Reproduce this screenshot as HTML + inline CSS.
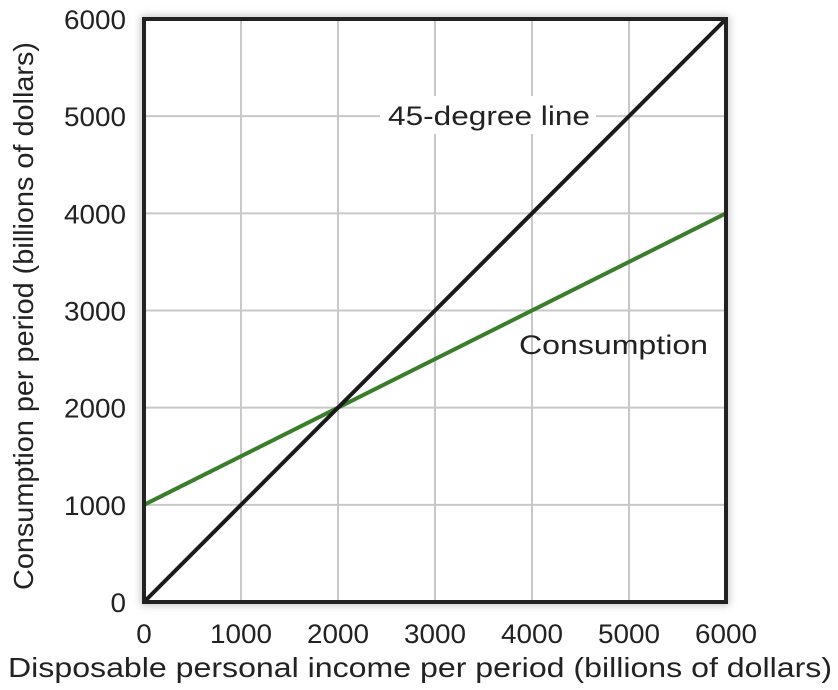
<!DOCTYPE html>
<html><head><meta charset="utf-8"><style>
html,body{margin:0;padding:0;background:#fff;}
svg{display:block;font-family:"Liberation Sans",sans-serif;}
</style></head><body>
<svg id="chart" width="838" height="690">
<defs><filter id="sh" x="-5%" y="-5%" width="110%" height="110%"><feGaussianBlur stdDeviation="4"/></filter></defs>
<rect x="144" y="19" width="582" height="583" fill="none" stroke="#bbb" stroke-width="6" filter="url(#sh)"/>
<rect x="144" y="19" width="582" height="583" fill="#fff"/>
<g id="grid"></g><g id="lines"></g>
<rect x="144" y="19" width="582" height="583" fill="none" stroke="#222" stroke-width="4"/>
<g id="ticks" font-size="27" fill="#222"></g>
<rect x="380" y="96" width="216" height="38" fill="#fff"/>
<text x="388" y="125" font-size="27" textLength="202" lengthAdjust="spacingAndGlyphs" fill="#222">45-degree line</text>
<text x="519" y="354" font-size="27" textLength="189" lengthAdjust="spacingAndGlyphs" fill="#222">Consumption</text>
<text x="8" y="677" font-size="28" textLength="824" lengthAdjust="spacingAndGlyphs" fill="#222">Disposable personal income per period (billions of dollars)</text>
<text transform="translate(33,590) rotate(-90)" font-size="28" textLength="548" lengthAdjust="spacingAndGlyphs" fill="#222">Consumption per period (billions of dollars)</text>
</svg>
<script>
const xTicks=[0,1000,2000,3000,4000,5000,6000];
const yTicks=[0,1000,2000,3000,4000,5000,6000];
const lineX=[0,6000];
const line45=[0,6000];
const consX=[0,6000];
const consY=[1000,4000];
const NS="http://www.w3.org/2000/svg";
const X0=144,X1=726,Y0=602,Y1=19;
const sx=v=>X0+(v-0)/6000*(X1-X0);
const sy=v=>Y0-(v-0)/6000*(Y0-Y1);
function mk(t,a,p){const e=document.createElementNS(NS,t);for(const k in a)e.setAttribute(k,a[k]);p.appendChild(e);return e;}
const g=document.getElementById('grid'),tk=document.getElementById('ticks'),ln=document.getElementById('lines');
function tl(v){return String(v).length*15.5;}
xTicks.forEach(v=>{
 const l=mk('line',{x1:sx(v),x2:sx(v),y1:Y0,y2:Y1,stroke:'#c8c8c8','stroke-width':2},g);
 
 
 const t=mk('text',{x:sx(v),y:643,'text-anchor':'middle',textLength:tl(v),lengthAdjust:'spacingAndGlyphs'},tk);t.textContent=v;
 
 
});
yTicks.forEach(v=>{
 const l=mk('line',{x1:X0,x2:X1,y1:sy(v),y2:sy(v),stroke:'#c8c8c8','stroke-width':2},g);
 
 
 const t=mk('text',{x:126,y:sy(v)+10,'text-anchor':'end',textLength:tl(v),lengthAdjust:'spacingAndGlyphs'},tk);t.textContent=v;
 
 
});
const c=mk('line',{x1:sx(consX[0]),y1:sy(consY[0]),x2:sx(consX[1]),y2:sy(consY[1]),stroke:'#3a7d2c','stroke-width':4},ln);


const d=mk('line',{x1:sx(lineX[0]),y1:sy(line45[0]),x2:sx(lineX[1]),y2:sy(line45[1]),stroke:'#1a1a1a','stroke-width':4},ln);


</script>
</body></html>
